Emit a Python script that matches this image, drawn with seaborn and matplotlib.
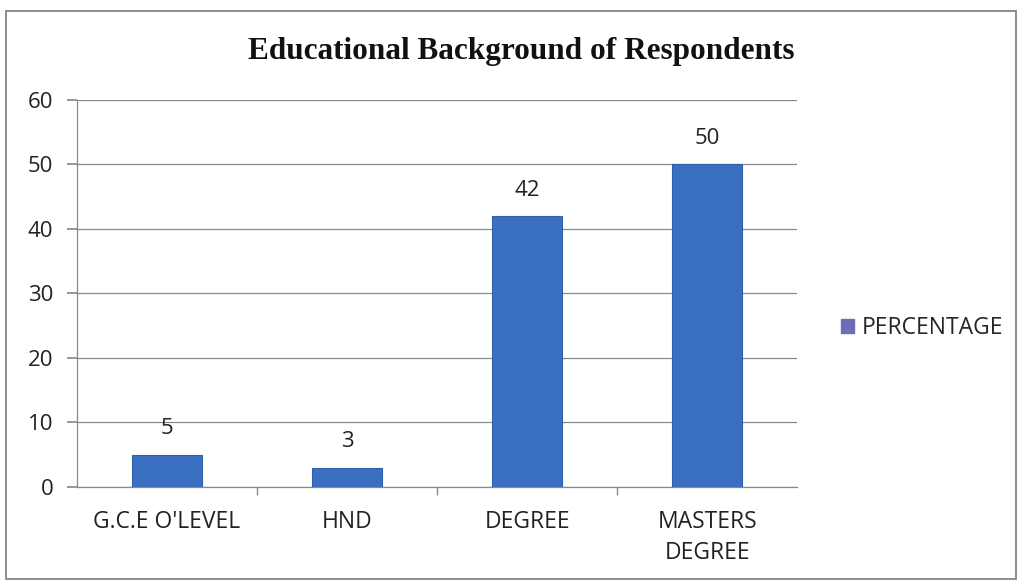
import matplotlib
matplotlib.use("Agg")
import matplotlib.pyplot as plt
import seaborn as sns
import pandas as pd
from matplotlib.patches import Rectangle, Patch

categories = ["G.C.E O'LEVEL", "HND", "DEGREE", "MASTERS\nDEGREE"]
percentage = [5, 3, 42, 50]
yticks = [0, 10, 20, 30, 40, 50, 60]

df = pd.DataFrame({"category": categories, "PERCENTAGE": percentage})

sns.set_theme(style="white")
plt.rcParams['font.family'] = ['Open Sans', 'DejaVu Sans']

fig = plt.figure(figsize=(10.2, 5.81), dpi=100)
ax = fig.add_axes([0.0755, 0.162, 0.706, 0.666])

bar_color = "#3B6FC2"
sns.barplot(data=df, x="category", y="PERCENTAGE", color=bar_color, width=0.39,
            ax=ax, saturation=1, edgecolor="#2F5FA8", linewidth=0.8, zorder=3)

ax.set_ylim(0, 60)
ax.set_xlim(-0.5, 3.5)
ax.set_yticks(yticks)
ax.set_yticklabels([str(v) for v in yticks], fontsize=16, color="#222222")
ax.set_xticks(range(len(categories)))
ax.set_xticklabels(categories, fontsize=16.5, color="#222222", linespacing=1.35)
ax.set_xlabel("")
ax.set_ylabel("")
ax.yaxis.grid(True, color="#8a8a8a", linewidth=0.9, zorder=0)
ax.set_axisbelow(True)

for s in ["top", "right"]:
    ax.spines[s].set_visible(False)
for s in ["left", "bottom"]:
    ax.spines[s].set_color("#8a8a8a")
    ax.spines[s].set_linewidth(0.9)

ax.tick_params(axis="y", which="major", left=True, length=7, color="#8a8a8a", pad=10)
ax.tick_params(axis="x", which="major", bottom=False, pad=11)
ax.set_xticks([0.5, 1.5, 2.5], minor=True)
ax.tick_params(axis="x", which="minor", bottom=True, length=6, color="#8a8a8a")

for container in ax.containers:
    ax.bar_label(container, labels=[str(v) for v in percentage], padding=11,
                 fontsize=16, color="#222222")

fig.text(0.511, 0.912, "Educational Background of Respondents", ha="center", va="center",
         fontsize=22.5, fontweight="bold", family="Liberation Serif", color="#111111")

handle = Patch(facecolor="#6D6DB6", edgecolor="#6D6DB6")
fig.legend([handle], ["PERCENTAGE"], loc="center left", bbox_to_anchor=(0.825, 0.435),
           frameon=False, fontsize=16.5, handlelength=0.55, handleheight=0.55,
           handletextpad=0.35, borderpad=0, borderaxespad=0)

fig.patches.append(Rectangle((0.006, 0.003), 0.99, 0.978, transform=fig.transFigure,
                             fill=False, edgecolor="#7a7a7a", linewidth=1.2))

fig.savefig("out.png", dpi=100, facecolor="white")
